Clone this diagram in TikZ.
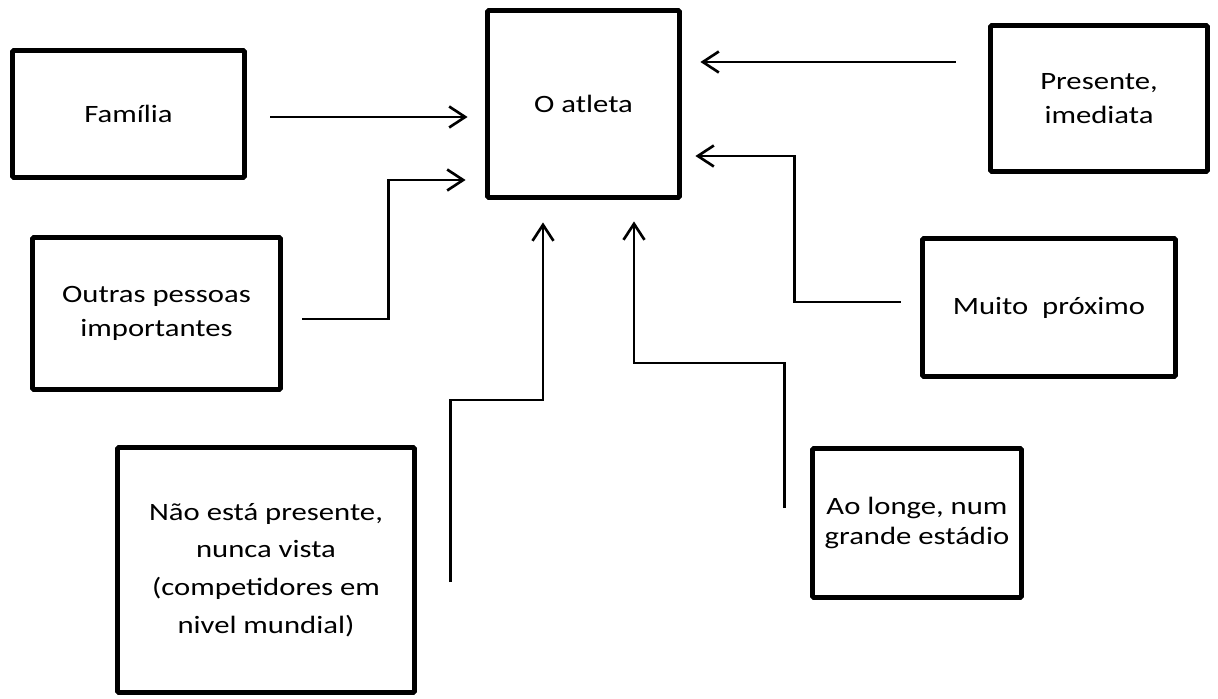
\documentclass[tikz,border=0pt]{standalone}
\usepackage{fontspec}
\setmainfont{Carlito}[FakeStretch=1.23]
\usetikzlibrary{positioning,arrows.meta,calc}

\begin{document}
\begin{tikzpicture}[x=0.02cm, y=-0.02cm,
        caixa/.style={rectangle, draw, line width=2.8pt, rounded corners=0.8pt, inner sep=0pt, align=center, font=\fontsize{14.2}{19}\selectfont},
        seta/.style={line width=1.5pt, -{Straight Barb[length=0.32cm, width=0.42cm]}}]
        \useasboundingbox (0,0) rectangle (1218,699);

        % Centro
        \node (atleta) at (583.5,104) [caixa, minimum width=3.84cm, minimum height=3.74cm] {O atleta};

        % Lado esquerdo
        \node (familia) at (128.5,114) [caixa, minimum width=4.64cm, minimum height=2.54cm] {Família};
        \node (outras) at (156.5,313.5) [caixa, minimum width=4.96cm, minimum height=3.04cm] {Outras pessoas\\importantes};
        \node (naoesta) at (266,570) [caixa, minimum width=5.94cm, minimum height=4.9cm, font=\fontsize{14.2}{21.5}\selectfont] {Não está presente,\\nunca vista\\(competidores em\\nivel mundial)};

        % Lado direito
        \node (presente) at (1099,98.5) [caixa, minimum width=4.34cm, minimum height=2.92cm] {Presente,\\imediata};
        \node (muito) at (1049,307.5) [caixa, minimum width=5.06cm, minimum height=2.76cm] {Muito~~próximo};
        \node (aolonge) at (917,523) [caixa, minimum width=4.18cm, minimum height=2.98cm, font=\fontsize{14.2}{17}\selectfont] {Ao longe, num\\grande estádio};

        % Setas
        \draw[seta] ($(familia.east)+(23.5,3)$) -- ($(atleta.west)+(-17.5,13)$);
        \draw[seta] ($(outras.east)+(19.5,5.5)$) -- ++(86,0) |- ($(atleta.west)+(-19.5,76)$);
        \draw[seta] ($(naoesta.east)+(33.5,12)$) -- ++(0,-182) -| ($(atleta.south)+(-40.5,22.5)$);
        \draw[seta] ($(presente.west)+(-32.5,-36.5)$) -- ($(atleta.east)+(18.5,-42)$);
        \draw[seta] ($(muito.west)+(-19.5,-5.5)$) -- ++(-106,0) |- ($(atleta.east)+(13.5,52)$);
        \draw[seta] ($(aolonge.west)+(-25.5,-15)$) -- ++(0,-145) -| ($(atleta.south)+(50.5,21.5)$);
    \end{tikzpicture}
\end{document}
